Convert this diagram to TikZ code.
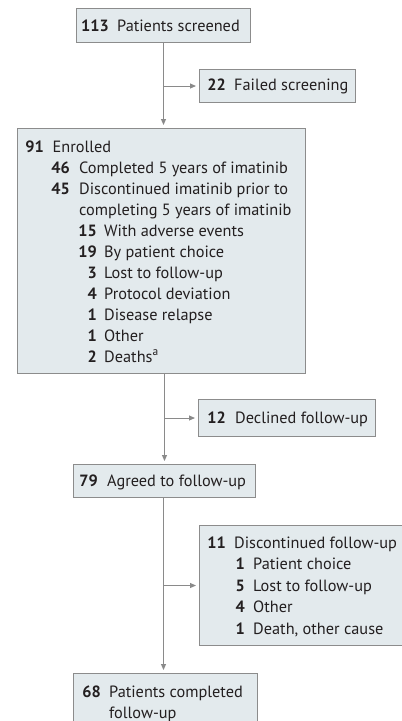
\documentclass[tikz,border=0pt]{standalone}
\usepackage{fontspec}
\setmainfont{PT Sans}
\usetikzlibrary{arrows.meta}
\definecolor{boxfill}{HTML}{E3EAED}
\definecolor{boxline}{HTML}{8C8C8C}
\definecolor{linecol}{HTML}{8A8A8A}
\definecolor{ink}{HTML}{231F20}
\tikzset{
  box/.style={draw=boxline, fill=boxfill, line width=1pt, inner sep=0pt, anchor=north west},
  num/.style={anchor=base east, inner sep=0pt, text=ink, font=\fontsize{16.3}{19}\selectfont\bfseries},
  txt/.style={anchor=base west, inner sep=0pt, text=ink, font=\fontsize{16.3}{19}\selectfont},
  conn/.style={draw=linecol, line width=1pt},
  arr/.style={conn, -{Triangle[length=6pt,width=5pt]}, shorten >=3pt}
}
\begin{document}
\begin{tikzpicture}[x=1pt,y=-1pt]
\useasboundingbox (0,0) rectangle (402,721);
\clip (0,0) rectangle (402,721);
% boxes
\node[box, minimum width=174pt, minimum height=34pt] (screened) at (76,8) {};
\node[box, minimum width=156pt, minimum height=33pt] (failed) at (199,69) {};
\node[box, minimum width=288pt, minimum height=245pt] (enrolled) at (17,128) {};
\node[box, minimum width=177pt, minimum height=37pt] (declined) at (198,399) {};
\node[box, minimum width=182pt, minimum height=33pt] (agreed) at (73,464) {};
\node[box, minimum width=211pt, minimum height=120pt] (disc) at (199,525) {};
\node[box, minimum width=184pt, minimum height=60pt] (completed) at (73,673) {};
% connectors
\draw[arr] (screened.south) -- (screened.south |- enrolled.north);
\draw[arr] (screened.south |- failed.west) -- (failed.west);
\draw[arr] (agreed.north |- enrolled.south) -- (agreed.north);
\draw[arr] (agreed.north |- declined.west) -- (declined.west);
\draw[arr] ([xshift=-1pt]agreed.south) -- ([xshift=-1pt]agreed.south |- completed.north);
\draw[arr] ([xshift=-1pt]agreed.south |- disc.west) -- (disc.west);
% texts box 1
\node[num] (n1) at (109,31) {113};
\node[txt] (t1) at (117,31) {Patients screened};
\node[num] (n2) at (226,90) {22};
\node[txt] (t2) at (234,90) {Failed screening};
% enrolled
\node[num] (e0n) at (44,152) {91};
\node[txt] (e0t) at (52.5,152) {Enrolled};
\node[num] (e1n) at (70,173) {46};
\node[txt] (e1t) at (79,173) {Completed 5 years of imatinib};
\node[num] (e2n) at (70,194) {45};
\node[txt] (e2t) at (79,194) {Discontinued imatinib prior to};
\node[txt] (e3t) at (79,215) {completing 5 years of imatinib};
\node[num] (e4n) at (97,236) {15};
\node[txt] (e4t) at (104,236) {With adverse events};
\node[num] (e5n) at (97,257) {19};
\node[txt] (e5t) at (104,257) {By patient choice};
\node[num] (e6n) at (97,278) {3};
\node[txt] (e6t) at (104,278) {Lost to follow-up};
\node[num] (e7n) at (97,299) {4};
\node[txt] (e7t) at (104,299) {Protocol deviation};
\node[num] (e8n) at (97,320) {1};
\node[txt] (e8t) at (104,320) {Disease relapse};
\node[num] (e9n) at (97,341) {1};
\node[txt] (e9t) at (104,341) {Other};
\node[num] (e10n) at (97,362) {2};
\node[txt] (e10t) at (104,362) {Deaths\textsuperscript{a}};
% declined
\node[num] (d0n) at (226,423) {12};
\node[txt] (d0t) at (235,423) {Declined follow-up};
% agreed
\node[num] (a0n) at (98,486) {79};
\node[txt] (a0t) at (107,486) {Agreed to follow-up};
% discontinued
\node[num] (s0n) at (226,548) {11};
\node[txt] (s0t) at (234,548) {Discontinued follow-up};
\node[num] (s1n) at (245,569.5) {1};
\node[txt] (s1t) at (253,569.5) {Patient choice};
\node[num] (s2n) at (245,591) {5};
\node[txt] (s2t) at (253,591) {Lost to follow-up};
\node[num] (s3n) at (245,612.5) {4};
\node[txt] (s3t) at (253,612.5) {Other};
\node[num] (s4n) at (245,634) {1};
\node[txt] (s4t) at (253,634) {Death, other cause};
% completed
\node[num] (c0n) at (101,697) {68};
\node[txt] (c0t) at (109,697) {Patients completed};
\node[txt] (c1t) at (109,718) {follow-up};
\end{tikzpicture}
\end{document}
